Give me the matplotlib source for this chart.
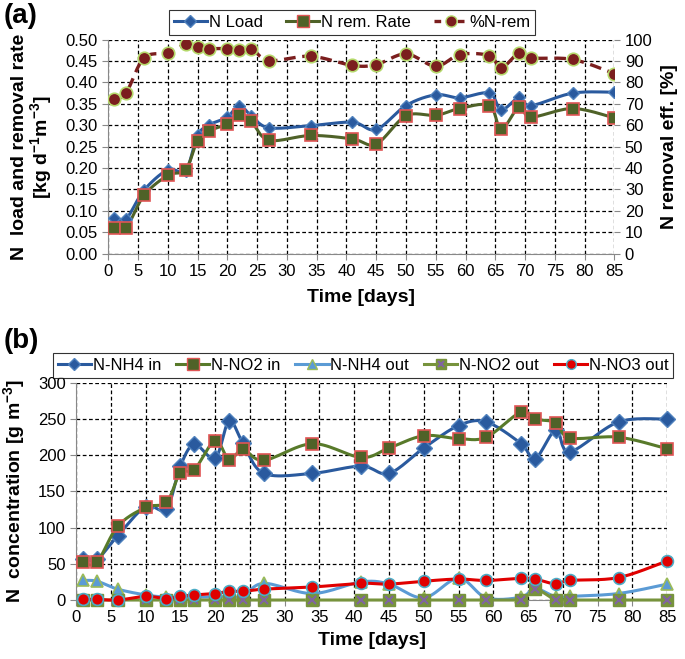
import numpy as np
import matplotlib
matplotlib.use("Agg")
import matplotlib.pyplot as plt
from matplotlib.lines import Line2D

plt.rcParams['font.family'] = ['Liberation Sans', 'DejaVu Sans']
plt.rcParams['mathtext.fontset'] = 'custom'
plt.rcParams['mathtext.bf'] = 'Liberation Sans:bold'
plt.rcParams['mathtext.rm'] = 'Liberation Sans'
plt.rcParams['mathtext.default'] = 'bf'

# ---- data (a) ----
days_a = [1, 3, 6, 10, 13, 15, 17, 20, 22, 24, 27, 34, 41, 45, 50, 55, 59, 64, 66, 69, 71, 78, 85]
n_load = [0.083, 0.081, 0.148, 0.196, 0.194, 0.276, 0.301, 0.319, 0.346, 0.322, 0.294, 0.299, 0.307,
          0.290, 0.346, 0.371, 0.364, 0.375, 0.336, 0.365, 0.346, 0.375, 0.377]
n_rem_rate = [0.060, 0.060, 0.136, 0.183, 0.196, 0.264, 0.287, 0.303, 0.325, 0.309, 0.265, 0.276, 0.268,
              0.256, 0.322, 0.323, 0.339, 0.346, 0.291, 0.343, 0.319, 0.339, 0.317]
n_rem_pct = [72.3, 75.1, 91.4, 93.8, 97.7, 96.6, 95.8, 95.8, 94.9, 95.8, 90.2, 92.2, 87.9,
             88.3, 93.3, 87.5, 93.0, 92.5, 86.8, 93.8, 91.4, 90.7, 84.1]

# ---- data (b) ----
days_b = [1, 3, 6, 10, 13, 15, 17, 20, 22, 24, 27, 34, 41, 45, 50, 55, 59, 64, 66, 69, 71, 78, 85]
nh4_in = [57, 56, 89, 129, 126, 185, 215, 196, 247, 217, 175, 175, 185,
          175, 210, 241, 246, 216, 195, 235, 205, 246, 250]
no2_in = [52, 52, 102, 128, 135, 176, 180, 220, 194, 208, 193, 216, 197,
          210, 227, 223, 225, 260, 250, 245, 224, 225, 209]
nh4_out = [27, 26, 15, 7, 4, 4, 4, 4, 5, 5, 23, 9, 25,
           22, 3, 30, 3, 4, 16, 4, 5, 9, 22]
no2_out = [0, 0, 0, 0, 0, 0, 0, 0, 0, 0, 0, 0, 0,
           0, 0, 0, 0, 0, 15, 0, 0, 0, 0]
no3_out = [1, 1, 0, 5, 2, 5, 7, 9, 12, 12, 15, 18, 23,
           22, 26, 29, 27, 30, 29, 22, 27, 31, 54]


def smooth(x, y, n=16):
    # bezier smoothing through the points (like spreadsheet "smoothed line")
    p = np.column_stack([x, y]).astype(float)
    out = [p[0]]
    t = np.linspace(0, 1, n)[1:, None]
    for i in range(len(p) - 1):
        p0 = p[i - 1] if i > 0 else p[i]
        p1, p2 = p[i], p[i + 1]
        p3 = p[i + 2] if i + 2 < len(p) else p[i + 1]
        c1 = p1 + (p2 - p0) / 6
        c2 = p2 - (p3 - p1) / 6
        seg = ((1 - t) ** 3) * p1 + 3 * ((1 - t) ** 2) * t * c1 + 3 * (1 - t) * t ** 2 * c2 + t ** 3 * p2
        out.extend(seg)
    out = np.array(out)
    return out[:, 0], out[:, 1]


def style_axis(ax):
    for s in ['top', 'right']:
        ax.spines[s].set_visible(False)
    for s in ['left', 'bottom']:
        ax.spines[s].set_color('#888888')
    ax.tick_params(direction='out', length=4, color='#888888', labelsize=12)
    ax.grid(True, color='black', linestyle=(0, (3, 2)), linewidth=0.9)
    ax.set_axisbelow(True)


fig = plt.figure(figsize=(6.85, 6.59), dpi=100)

# ================= panel (a) =================
ax1 = fig.add_axes([0.158, 0.615, 0.739, 0.325])
style_axis(ax1)
ax1.set_xlim(0, 85)
ax1.set_ylim(0, 0.5)
ax1.set_xticks(np.arange(0, 86, 5))
ax1.set_yticks(np.arange(0, 0.501, 0.05))
ax1.yaxis.set_major_formatter(matplotlib.ticker.FormatStrFormatter('%.2f'))

c_load, c_rem, c_pct = '#2A5A9E', '#4F6228', '#7B1E1E'
sx, sy = smooth(days_a, n_load)
ax1.plot(sx, sy, color=c_load, lw=2.2, zorder=3)
ax1.plot(days_a, n_load, ls='none', marker='D', ms=6.5, mfc=c_load, mec='#4F81BD', zorder=4)
sx, sy = smooth(days_a, n_rem_rate)
ax1.plot(sx, sy, color=c_rem, lw=2.2, zorder=3)
ax1.plot(days_a, n_rem_rate, ls='none', marker='s', ms=8, mfc=c_rem, mec='#E05555', mew=1.2, zorder=5)

ax1r = ax1.twinx()
ax1r.set_ylim(0, 100)
ax1r.set_yticks(np.arange(0, 101, 10))
for s in ['top', 'left', 'bottom', 'right']:
    ax1r.spines[s].set_visible(False)
ax1r.tick_params(direction='out', length=4, color='#888888', labelsize=12)
sx, sy = smooth(days_a, n_rem_pct)
ax1r.plot(sx, sy, color=c_pct, lw=2.4, ls=(0, (3.5, 2)), zorder=3)
ax1r.plot(days_a, n_rem_pct, ls='none', marker='o', ms=9, mfc=c_pct, mec='#B5D96B', mew=1.2, zorder=4)

ax1.set_xlabel('Time [days]', fontsize=14, fontweight='bold', labelpad=7)
ax1.set_ylabel('N  load and removal rate\n[kg d$^{-1}$m$^{-3}$]', fontsize=14, fontweight='bold',
               labelpad=8, linespacing=1.0)
ax1r.set_ylabel('N removal eff. [%]', fontsize=14, fontweight='bold', labelpad=6)

handles_a = [
    Line2D([], [], color=c_load, lw=2.2, marker='D', ms=6, mfc=c_load, mec='#4F81BD'),
    Line2D([], [], color=c_rem, lw=2.2, marker='s', ms=8, mfc=c_rem, mec='#E05555'),
    Line2D([], [], color=c_pct, lw=2.4, ls=(0, (2, 1.5)), marker='o', ms=8, mfc=c_pct, mec='#B5D96B'),
]
leg = fig.legend(handles_a, ['N Load', 'N rem. Rate', '%N-rem'], loc='upper center',
                 bbox_to_anchor=(0.514, 0.998), ncol=3, fontsize=12, frameon=True, fancybox=False,
                 edgecolor='black', handlelength=2.0, handletextpad=0.1, columnspacing=1.4,
                 borderpad=0.3)
leg.get_frame().set_linewidth(0.8)

fig.text(0.005, 0.995, '(a)', fontsize=20, fontweight='bold', va='top', ha='left')

# ================= panel (b) =================
ax2 = fig.add_axes([0.111, 0.0895, 0.863, 0.3295])
style_axis(ax2)
ax2.set_xlim(0, 85)
ax2.set_ylim(0, 300)
ax2.set_xticks(np.arange(0, 86, 5))
ax2.set_yticks(np.arange(0, 301, 50))

c_nh4in, c_no2in, c_nh4out, c_no2out, c_no3 = '#2A5A9E', '#587A2A', '#5B9BD5', '#77933C', '#E00000'
series_b = [
    (nh4_in, c_nh4in, dict(marker='D', ms=8, mfc=c_nh4in, mec='#4F81BD'), 4),
    (no2_in, c_no2in, dict(marker='s', ms=9, mfc='#4F6228', mec='#E05555', mew=1.2), 5),
    (nh4_out, c_nh4out, dict(marker='^', ms=8, mfc=c_nh4out, mec='#9BBB59', mew=1.2), 4),
    (no2_out, c_no2out, dict(marker='s', ms=8, mfc=c_no2out, mec='#77933C'), 4),
    (no3_out, c_no3, dict(marker='o', ms=8.5, mfc=c_no3, mec='#4BACC6', mew=1.2), 6),
]
for vals, col, mk, z in series_b:
    sx, sy = smooth(days_b, vals)
    ax2.plot(sx, np.clip(sy, 0, None), color=col, lw=2.2, zorder=z - 1, clip_on=False)
    ax2.plot(days_b, vals, ls='none', zorder=z, clip_on=False, **mk)
ax2.plot(days_b, no2_out, ls='none', marker='x', ms=6, mec='#8064A2', mew=1.5, zorder=4, clip_on=False)

ax2.set_xlabel('Time [days]', fontsize=14, fontweight='bold', labelpad=5)
ax2.set_ylabel('N  concentration [g m$^{-3}$]', fontsize=14, fontweight='bold', labelpad=8)

handles_b = [
    Line2D([], [], color=c_nh4in, lw=2.2, marker='D', ms=6, mfc=c_nh4in, mec='#4F81BD'),
    Line2D([], [], color=c_no2in, lw=2.2, marker='s', ms=8, mfc='#4F6228', mec='#E05555'),
    Line2D([], [], color=c_nh4out, lw=2.2, marker='^', ms=7, mfc=c_nh4out, mec='#9BBB59'),
    (Line2D([], [], color=c_no2out, lw=2.2, marker='s', ms=7, mfc=c_no2out, mec=c_no2out),
     Line2D([], [], ls='none', marker='x', ms=5, mec='#8064A2', mew=1.5)),
    Line2D([], [], color=c_no3, lw=2.2, marker='o', ms=7, mfc=c_no3, mec='#4BACC6'),
]
leg = fig.legend(handles_b, ['N-NH4 in', 'N-NO2 in', 'N-NH4 out', 'N-NO2 out', 'N-NO3 out'],
                 loc='upper center', bbox_to_anchor=(0.53, 0.477), ncol=5, fontsize=12, frameon=True,
                 fancybox=False, edgecolor='black', handlelength=2.0, handletextpad=0.1,
                 columnspacing=0.9, borderpad=0.3)
leg.get_frame().set_linewidth(0.8)

fig.text(0.005, 0.503, '(b)', fontsize=20, fontweight='bold', va='top', ha='left')

fig.savefig('out.png', dpi=100)
